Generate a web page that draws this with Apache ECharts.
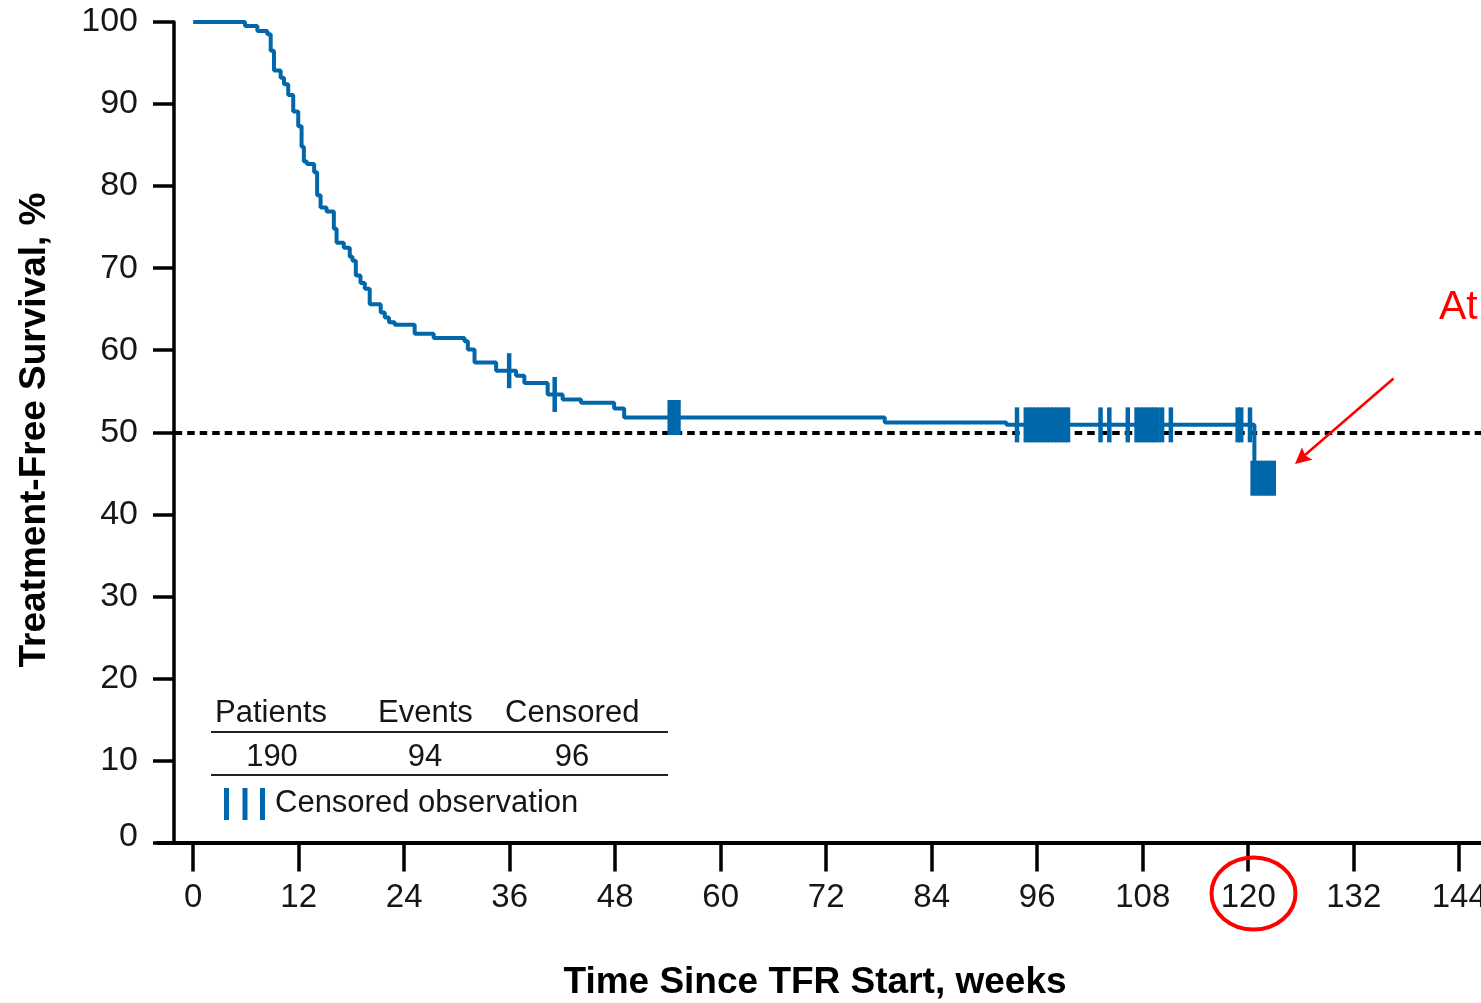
<!DOCTYPE html>
<html><head><meta charset="utf-8">
<script src="https://cdn.jsdelivr.net/npm/echarts@6/dist/echarts.min.js"></script>
<style>html,body{margin:0;padding:0;background:#fff;overflow:hidden}#c{width:1481px;height:1003px}</style>
</head><body><div id="c"></div>
<script>
// Kaplan-Meier step points (week, survival %)
const kmTimes = [0, 5.9, 7.3, 8.43, 8.82, 9.19, 9.95, 10.33, 10.81, 11.38, 11.95, 12.33, 12.59, 12.94, 13.76, 14.1, 14.49, 15.17, 16.0, 16.31, 17.13, 17.81, 18.12, 18.5, 19.03, 19.52, 20.08, 21.33, 21.79, 22.27, 22.92, 25.19, 27.35, 30.86, 31.24, 32.0, 34.46, 36.73, 37.67, 40.32, 42.02, 44.11, 47.88, 49.02, 78.66, 92.5, 120.7, 122.9];
const kmSurv  = [100, 99.5, 98.9, 98.5, 96.5, 94.1, 93.2, 92.4, 91.1, 89.1, 87.3, 84.8, 83.0, 82.7, 81.7, 78.9, 77.4, 76.9, 74.8, 73.1, 72.5, 71.4, 70.9, 69.1, 68.2, 67.5, 65.6, 64.6, 64.0, 63.4, 63.1, 62.0, 61.5, 61.1, 60.1, 58.5, 57.5, 56.9, 56.0, 54.6, 54.0, 53.6, 52.9, 51.8, 51.2, 50.9, 44.4, 44.4];
// Censored observations (week, survival %)
const censTimes = [35.94, 41.12, 54.2, 54.6, 55.0, 55.2, 93.7, 94.7, 95.1, 95.5, 95.9, 96.3, 96.7, 97.1, 97.5, 97.9, 98.3, 98.7, 99.1, 99.5, 103.2, 104.2, 106.3, 107.3, 107.7, 108.1, 108.5, 108.9, 109.3, 109.7, 110.2, 111.2, 118.8, 119.2, 120.2, 120.5, 120.9, 121.3, 121.7, 122.1, 122.5, 122.9];
const censSurv  = [57.5, 54.6, 51.8, 51.8, 51.8, 51.8, 50.9, 50.9, 50.9, 50.9, 50.9, 50.9, 50.9, 50.9, 50.9, 50.9, 50.9, 50.9, 50.9, 50.9, 50.9, 50.9, 50.9, 50.9, 50.9, 50.9, 50.9, 50.9, 50.9, 50.9, 50.9, 50.9, 50.9, 50.9, 50.9, 44.4, 44.4, 44.4, 44.4, 44.4, 44.4, 44.4];
const xTicks = [0, 12, 24, 36, 48, 60, 72, 84, 96, 108, 120, 132, 144];
const yTicks = [0, 10, 20, 30, 40, 50, 60, 70, 80, 90, 100];
const refLevel = 50;
const tableHeaders = ['Patients', 'Events', 'Censored'];
const tableValues = ['190', '94', '96'];
const legendLabel = 'Censored observation';
const xTitle = 'Time Since TFR Start, weeks';
const yTitle = 'Treatment-Free Survival, %';
const annotationText = 'At';
const highlightTick = 120;

const BLUE = '#0067ab';
const FONT = '"Liberation Sans", Arial, sans-serif';
const TXT = '#161616';

const chart = echarts.init(document.getElementById('c'), null, {renderer: 'canvas'});

const kmData = kmTimes.map((t, i) => [t, kmSurv[i]]);
const censData = censTimes.map((t, i) => [t, censSurv[i]]);

const gLeft = 158, gTop = 22, gWidth = 1354, gHeight = 820.5;

const headerX = [215, 378, 505];
const valueX = [272, 425, 572];

const graphics = [
  {type: 'text', x: 35, y: 430, rotation: Math.PI / 2,
   style: {text: yTitle, font: 'bold 37px ' + FONT, fill: '#000', align: 'center', verticalAlign: 'middle'}},
  {type: 'text', x: 815, y: 983,
   style: {text: xTitle, font: 'bold 37px ' + FONT, fill: '#000', align: 'center', verticalAlign: 'middle'}},
  {type: 'line', shape: {x1: 211, y1: 732, x2: 668, y2: 732}, style: {stroke: '#222', lineWidth: 2}},
  {type: 'line', shape: {x1: 211, y1: 775, x2: 668, y2: 775}, style: {stroke: '#222', lineWidth: 2}},
  {type: 'rect', shape: {x: 224, y: 788, width: 5, height: 32}, style: {fill: BLUE}},
  {type: 'rect', shape: {x: 242.5, y: 788, width: 5, height: 32}, style: {fill: BLUE}},
  {type: 'rect', shape: {x: 260, y: 788, width: 5, height: 32}, style: {fill: BLUE}},
  {type: 'text', x: 275, y: 803, style: {text: legendLabel, font: '31px ' + FONT, fill: TXT, align: 'left', verticalAlign: 'middle'}},
  // red annotations
  {type: 'ellipse', shape: {cx: 1253.5, cy: 893.5, rx: 42, ry: 36}, style: {fill: null, stroke: '#ff0000', lineWidth: 4}, z: 10},
  {type: 'line', shape: {x1: 1393.5, y1: 378.5, x2: 1305, y2: 455}, style: {stroke: '#ff0000', lineWidth: 2.5}, z: 10},
  {type: 'polygon', shape: {points: [[1295, 464], [1301.9, 447.5], [1305.5, 455.5], [1312.3, 459.7]]}, style: {fill: '#ff0000'}, z: 10},
  {type: 'text', x: 1439, y: 308, style: {text: annotationText, font: '41px ' + FONT, fill: '#ff0000', align: 'left', verticalAlign: 'middle'}, z: 10}
];
tableHeaders.forEach((h, i) => graphics.push({type: 'text', x: headerX[i], y: 713,
  style: {text: h, font: '31px ' + FONT, fill: TXT, align: 'left', verticalAlign: 'middle'}}));
tableValues.forEach((v, i) => graphics.push({type: 'text', x: valueX[i], y: 757,
  style: {text: v, font: '31px ' + FONT, fill: TXT, align: 'center', verticalAlign: 'middle'}}));

chart.setOption({
  animation: false,
  backgroundColor: '#fff',
  grid: {left: gLeft, top: gTop, width: gWidth, height: gHeight, containLabel: false, outerBoundsMode: 'none'},
  xAxis: {
    type: 'value', min: -4, max: 150,
    axisLine: {onZero: false, lineStyle: {color: '#000', width: 4}},
    axisTick: {show: true, length: 29, customValues: xTicks, lineStyle: {color: '#000', width: 3.5}},
    axisLabel: {customValues: xTicks, margin: 39, fontSize: 33, fontFamily: FONT, color: TXT},
    splitLine: {show: false}
  },
  yAxis: {
    type: 'value', min: 0, max: 100, interval: 10, offset: -16,
    axisLine: {show: true, onZero: false, lineStyle: {color: '#000', width: 3.5}},
    axisTick: {show: true, length: 21, lineStyle: {color: '#000', width: 3.5}},
    axisLabel: {margin: 36, fontSize: 34, fontFamily: FONT, color: TXT,
      formatter: v => (v === 0 ? '{z|0}' : String(v)),
      rich: {z: {fontSize: 34, fontFamily: FONT, color: TXT, padding: [0, 0, 12, 0]}}},
    splitLine: {show: false}
  },
  series: [
    {
      type: 'line', step: 'end', data: kmData, showSymbol: false, symbol: 'none',
      lineStyle: {color: BLUE, width: 4, opacity: 1}, z: 3, silent: true,
      markLine: {
        silent: true, symbol: 'none', label: {show: false},
        lineStyle: {color: '#000', width: 4, type: [7.5, 5], opacity: 1},
        data: [[{coord: [-2.1, refLevel]}, {coord: [150, refLevel]}]],
        z: 2
      }
    },
    {
      type: 'scatter', data: censData, symbol: 'rect', symbolSize: [4.5, 35],
      itemStyle: {color: BLUE, opacity: 1, borderWidth: 0}, z: 4, silent: true
    }
  ],
  graphic: graphics
});
</script>
</body></html>
